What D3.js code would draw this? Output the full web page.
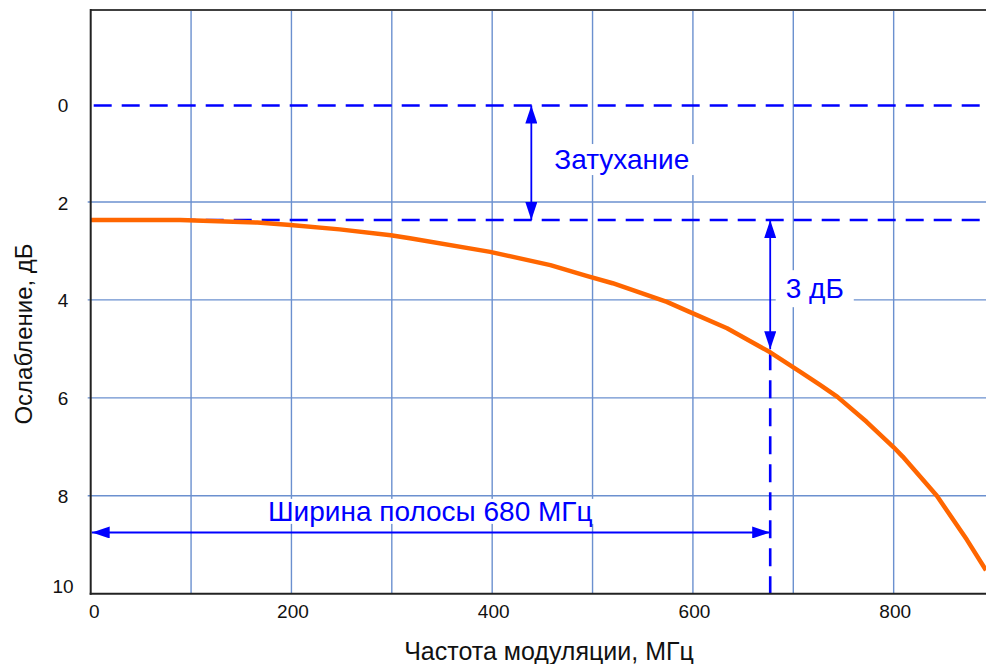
<!DOCTYPE html>
<html>
<head>
<meta charset="utf-8">
<script src="https://cdn.jsdelivr.net/npm/d3@7"></script>
<style>
html,body{margin:0;padding:0;background:#fff;}
svg{display:block;font-family:"Liberation Sans",Arial,sans-serif;}
</style>
</head>
<body>
<svg id="chart" width="986" height="664"></svg>
<script>
// ---- data ----
const freq  = [0, 89, 166, 199, 248, 299, 318, 398, 458, 494, 520, 574, 596, 634, 677, 707, 727, 744, 773, 800, 809, 843, 873, 892];
const atten = [2.37, 2.37, 2.42, 2.47, 2.56, 2.68, 2.74, 3.02, 3.29, 3.51, 3.66, 4.04, 4.24, 4.58, 5.07, 5.47, 5.74, 5.98, 6.49, 7.01, 7.20, 8.00, 8.90, 9.52];
const xTicks = [0, 200, 400, 600, 800];
const xGrid  = [100, 200, 300, 400, 500, 600, 700, 800];
const yTicks = [0, 2, 4, 6, 8, 10];
const yGrid  = [2, 4, 6, 8];
const refZero = 0;          // dB, upper dashed reference
const refLevel = 2.37;      // dB, low-frequency attenuation level
const bandwidth = 677;      // MHz, -3 dB point (as drawn)
const attArrowFreq = 439;   // MHz, position of attenuation arrow
const bwArrowLevel = 8.75;  // dB, level of bandwidth arrow
const labels = ["Затухание", "3 дБ", "Ширина полосы 680 МГц"];
const xTitle = "Частота модуляции, МГц";
const yTitle = "Ослабление, дБ";

// ---- layout ----
const svg = d3.select("#chart");
const L = 90.7, R = 986, T = 10, B = 593.7;
const x = d3.scaleLinear().domain([0, 892]).range([L, R]);
const y = d3.scaleLinear().domain([-1.92, 10]).range([T, B]);

const blue = "#0000ff", grid = "#6b90cf", orange = "#ff6600";

const defs = svg.append("defs");
defs.append("clipPath").attr("id", "plotclip").append("rect")
  .attr("x", L).attr("y", T).attr("width", R - L).attr("height", B - T);
defs.append("marker").attr("id", "ah").attr("viewBox", "0 0 18 12")
  .attr("refX", 18).attr("refY", 6).attr("markerWidth", 18).attr("markerHeight", 12)
  .attr("markerUnits", "userSpaceOnUse").attr("orient", "auto-start-reverse")
  .append("path").attr("d", "M0,0L18,6L0,12Z").attr("fill", blue);

// grid
svg.append("g").selectAll("line").data(xGrid).join("line")
  .attr("x1", d => x(d)).attr("x2", d => x(d)).attr("y1", T).attr("y2", B)
  .attr("stroke", grid).attr("stroke-width", 1.4);
svg.append("g").selectAll("line").data(yGrid).join("line")
  .attr("x1", L - 3).attr("x2", R).attr("y1", d => y(d)).attr("y2", d => y(d))
  .attr("stroke", grid).attr("stroke-width", 1.4);

// dashed reference lines
const dash = "18,10";
svg.append("line").attr("x1", x(0) + 3).attr("x2", R).attr("y1", y(refZero) + 1.5).attr("y2", y(refZero) + 1.5)
  .attr("stroke", blue).attr("stroke-width", 2.6).attr("stroke-dasharray", dash);
svg.append("line").attr("x1", x(0) + 3).attr("x2", R).attr("y1", y(refLevel)).attr("y2", y(refLevel))
  .attr("stroke", blue).attr("stroke-width", 2.6).attr("stroke-dasharray", dash);
const bwLevel = d3.scaleLinear().domain(freq).range(atten)(bandwidth);
svg.append("line").attr("x1", x(bandwidth)).attr("x2", x(bandwidth)).attr("y1", y(bwLevel)).attr("y2", B)
  .attr("stroke", blue).attr("stroke-width", 2.6).attr("stroke-dasharray", dash);

// white label boxes + labels
function label(txt, lx, ly, padX, padY) {
  const g = svg.append("g");
  const rect = g.append("rect").attr("fill", "#fff");
  const t = g.append("text").attr("x", lx).attr("y", ly).attr("fill", blue)
    .attr("font-size", 28).text(txt);
  const bb = t.node().getBBox();
  rect.attr("x", bb.x - padX).attr("y", bb.y - padY)
    .attr("width", bb.width + 2 * padX).attr("height", bb.height + 2 * padY);
}
const midAtt = (y(refZero) + y(refLevel)) / 2;
label(labels[0], x(attArrowFreq) + 23, midAtt + 7, 8, 0);
const mid3 = (y(refLevel) + y(bwLevel)) / 2;
label(labels[1], x(bandwidth) + 15.5, mid3 + 12, 10, 3);
label(labels[2], (x(0) + x(bandwidth)) / 2 - 162.5, y(bwArrowLevel) - 11.6, 4, -3);

// arrows
svg.append("line").attr("x1", x(attArrowFreq)).attr("x2", x(attArrowFreq))
  .attr("y1", y(refZero) + 1.5).attr("y2", y(refLevel))
  .attr("stroke", blue).attr("stroke-width", 1.8)
  .attr("marker-start", "url(#ah)").attr("marker-end", "url(#ah)");
svg.append("line").attr("x1", x(bandwidth)).attr("x2", x(bandwidth))
  .attr("y1", y(refLevel)).attr("y2", y(bwLevel) - 3)
  .attr("stroke", blue).attr("stroke-width", 1.8)
  .attr("marker-start", "url(#ah)").attr("marker-end", "url(#ah)");
svg.append("line").attr("x1", x(0) + 1).attr("x2", x(bandwidth))
  .attr("y1", y(bwArrowLevel)).attr("y2", y(bwArrowLevel))
  .attr("stroke", blue).attr("stroke-width", 1.8)
  .attr("marker-start", "url(#ah)").attr("marker-end", "url(#ah)");

// curve
const pts = freq.map((f, i) => [f, atten[i]]);
svg.append("path").datum(pts).attr("clip-path", "url(#plotclip)")
  .attr("d", d3.line().x(d => x(d[0])).y(d => y(d[1])))
  .attr("fill", "none").attr("stroke", orange).attr("stroke-width", 4.5)
  .attr("stroke-linejoin", "round");

// frame
svg.append("line").attr("x1", L).attr("x2", R).attr("y1", T).attr("y2", T)
  .attr("stroke", "#404040").attr("stroke-width", 2);
svg.append("line").attr("x1", L).attr("x2", L).attr("y1", T - 1).attr("y2", B + 1)
  .attr("stroke", "#222").attr("stroke-width", 2);
svg.append("line").attr("x1", L - 1).attr("x2", R).attr("y1", B).attr("y2", B)
  .attr("stroke", "#222").attr("stroke-width", 2);

// axes labels
const xa = svg.append("g").attr("transform", `translate(0,${B})`)
  .call(d3.axisBottom(x).tickValues(xTicks).tickSize(0).tickPadding(11));
xa.select(".domain").remove();
xa.selectAll("text").attr("font-size", 19).attr("fill", "#111")
  .attr("font-family", "Liberation Sans, Arial, sans-serif")
  .attr("dx", d => d === 0 ? 3 : 1);

const ya = svg.append("g").attr("transform", `translate(${L},0)`)
  .call(d3.axisLeft(y).tickValues(yTicks).tickSize(0));
ya.select(".domain").remove();
ya.selectAll("text").attr("font-size", 19).attr("fill", "#111")
  .attr("font-family", "Liberation Sans, Arial, sans-serif")
  .attr("text-anchor", "middle").attr("x", 63 - L)
  .attr("y", d => d === 10 ? -7 : 1);

svg.append("text").attr("x", 549).attr("y", 660).attr("text-anchor", "middle")
  .attr("font-size", 25).attr("fill", "#111").text(xTitle);
svg.append("text").attr("transform", `translate(31.5,334) rotate(-90)`).attr("text-anchor", "middle")
  .attr("font-size", 24).attr("fill", "#111").text(yTitle);
</script>
</body>
</html>
